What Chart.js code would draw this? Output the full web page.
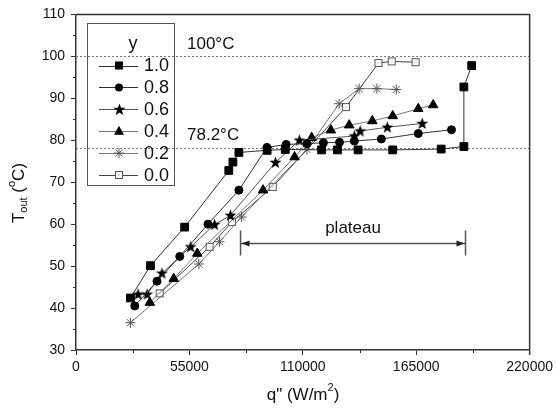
<!DOCTYPE html>
<html>
<head>
<meta charset="utf-8">
<script src="https://cdn.jsdelivr.net/npm/chart.js@4"></script>
<style>
  body { margin: 0; background: #fff; }
  #chart { display: block; }
</style>
</head>
<body>
<canvas id="chart" width="557" height="409"></canvas>
<script>
// series labels (y = composition)
const seriesLabels = ['1.0', '0.8', '0.6', '0.4', '0.2', '0.0'];

// heat flux q'' (W/m2) and outlet temperature (C) for each series
const q10 = [26400, 36100, 52700, 74100, 76100, 79000, 92700, 101500, 119100, 126800, 136800, 153600, 177100, 188100, 188100, 191900];
const t10 = [42.4, 50.1, 59.3, 72.8, 74.8, 77.1, 77.6, 77.8, 77.7, 77.7, 77.7, 77.7, 77.9, 78.5, 92.7, 97.8];
const q08 = [28500, 39300, 50300, 64000, 79000, 92600, 101900, 112000, 120000, 127800, 135000, 148100, 166000, 182100];
const t08 = [40.5, 46.4, 52.3, 60.0, 68.1, 78.3, 79.0, 79.2, 79.4, 79.5, 79.8, 80.3, 81.6, 82.5];
const q06 = [30100, 34500, 41700, 55600, 67200, 74900, 96700, 108300, 135000, 137800, 151000, 167900];
const t06 = [43.3, 43.3, 48.3, 54.6, 59.9, 62.1, 74.7, 80.0, 81.0, 82.2, 83.1, 84.0];
const q04 = [35800, 47400, 58800, 90700, 106000, 114300, 123600, 132500, 143700, 153600, 166000, 173200];
const t04 = [41.3, 47.0, 53.0, 68.1, 76.0, 80.6, 82.4, 83.6, 84.6, 85.8, 87.5, 88.4];
const q02 = [26400, 59600, 69600, 80300, 112000, 127600, 137300, 145900, 155300];
const t02 = [36.5, 50.5, 55.8, 61.7, 77.8, 88.7, 92.3, 92.3, 92.1];
const q00 = [40600, 64800, 75600, 95400, 130900, 146700, 153100, 164700];
const t00 = [43.5, 54.6, 60.5, 68.9, 87.9, 98.4, 98.8, 98.6];

// axis ticks
const xTicks = [0, 55000, 110000, 165000, 220000];
const yTicks = [30, 40, 50, 60, 70, 80, 90, 100, 110];

// reference temperatures and plateau span
const refTemps = [100, 78.2];
const refLabels = ['100°C', '78.2°C'];
const plateauQ = [79800, 188900];
const plateauT = 55.4;

const FONT = '"Liberation Sans", Arial, sans-serif';

function makeStar() {
    const c = document.createElement('canvas');
    c.width = 13; c.height = 13;
    const g = c.getContext('2d');
    g.fillStyle = '#000';
    g.beginPath();
    for (let i = 0; i < 10; i++) {
        const r = i % 2 ? 2.6 : 6.3;
        const a = -Math.PI / 2 + i * Math.PI / 5;
        const px = 6.5 + r * Math.cos(a), py = 6.8 + r * Math.sin(a);
        i ? g.lineTo(px, py) : g.moveTo(px, py);
    }
    g.closePath();
    g.fill();
    return c;
}

function makeOpenSquare() {
    const c = document.createElement('canvas');
    c.width = 10; c.height = 10;
    const g = c.getContext('2d');
    g.fillStyle = '#fff';
    g.fillRect(1, 1, 8, 8);
    g.strokeStyle = '#555';
    g.lineWidth = 1;
    g.strokeRect(1.5, 1.5, 7, 7);
    g.fillStyle = '#888';
    g.fillRect(4.5, 4.5, 1, 1);
    return c;
}

const starImg = makeStar();
const openSqImg = makeOpenSquare();

function pts(qs, ts) {
    return qs.map((q, i) => ({ x: q, y: ts[i] }));
}

const styles = [
    { line: '#333', point: 'rect', radius: 5.5, bg: '#000', border: '#000' },
    { line: '#333', point: 'circle', radius: 4, bg: '#000', border: '#000' },
    { line: '#555', point: starImg, radius: 6, bg: '#000', border: '#000' },
    { line: '#777', point: 'triangle', radius: 5.5, bg: '#000', border: '#000' },
    { line: '#777', point: 'star', radius: 5, bg: '#555', border: '#555' },
    { line: '#444', point: openSqImg, radius: 5, bg: '#fff', border: '#555' }
];

const seriesData = [pts(q10, t10), pts(q08, t08), pts(q06, t06), pts(q04, t04), pts(q02, t02), pts(q00, t00)];

const datasets = seriesData.map((d, i) => ({
    label: seriesLabels[i],
    data: d,
    showLine: true,
    borderColor: styles[i].line,
    borderWidth: 1,
    pointStyle: styles[i].point,
    pointRadius: styles[i].radius,
    pointBackgroundColor: styles[i].bg,
    pointBorderColor: styles[i].border,
    pointBorderWidth: 1
}));

// draws a legend marker
function drawMarker(ctx, i, x, y) {
    const s = styles[i];
    ctx.save();
    ctx.fillStyle = s.bg;
    ctx.strokeStyle = s.border;
    ctx.lineWidth = 1;
    if (s.point === 'rect') {
        ctx.fillRect(x - 4, y - 4, 8, 8);
    } else if (s.point === 'circle') {
        ctx.beginPath(); ctx.arc(x, y, 4, 0, Math.PI * 2); ctx.fill();
    } else if (s.point === 'triangle') {
        ctx.beginPath();
        ctx.moveTo(x, y - 5.5); ctx.lineTo(x + 5, y + 3.5); ctx.lineTo(x - 5, y + 3.5);
        ctx.closePath(); ctx.fill();
    } else if (s.point === 'star') {
        ctx.beginPath();
        for (let k = 0; k < 4; k++) {
            const a = k * Math.PI / 4;
            ctx.moveTo(x - 5 * Math.cos(a), y - 5 * Math.sin(a));
            ctx.lineTo(x + 5 * Math.cos(a), y + 5 * Math.sin(a));
        }
        ctx.stroke();
    } else {
        const img = s.point;
        ctx.drawImage(img, Math.round(x - img.width / 2), Math.round(y - img.height / 2));
    }
    ctx.restore();
}

const extras = {
    id: 'extras',
    beforeDatasetsDraw(chart) {
        const { ctx, chartArea: a, scales: { y } } = chart;
        ctx.save();
        ctx.strokeStyle = '#777';
        ctx.lineWidth = 1;
        ctx.setLineDash([2, 2]);
        refTemps.forEach(t => {
            const py = Math.round(y.getPixelForValue(t)) + 0.5;
            ctx.beginPath(); ctx.moveTo(a.left, py); ctx.lineTo(a.right, py); ctx.stroke();
        });
        ctx.restore();
    },
    afterDraw(chart) {
        const { ctx, chartArea: a, scales: { x, y } } = chart;
        ctx.save();

        // frame top + right
        ctx.strokeStyle = '#333';
        ctx.lineWidth = 1.5;
        ctx.beginPath();
        ctx.moveTo(a.left, a.top); ctx.lineTo(a.right, a.top); ctx.lineTo(a.right, a.bottom + 5);
        ctx.stroke();

        // minor ticks
        ctx.lineWidth = 1;
        for (let v = 27500; v < 220000; v += 55000) {
            const px = Math.round(x.getPixelForValue(v)) + 0.5;
            ctx.beginPath(); ctx.moveTo(px, a.bottom); ctx.lineTo(px, a.bottom + 3); ctx.stroke();
        }
        for (let v = 35; v < 110; v += 10) {
            const py = Math.round(y.getPixelForValue(v)) + 0.5;
            ctx.beginPath(); ctx.moveTo(a.left, py); ctx.lineTo(a.left - 3, py); ctx.stroke();
        }

        // reference labels
        ctx.fillStyle = '#111';
        ctx.font = '17px ' + FONT;
        ctx.textBaseline = 'middle';
        ctx.textAlign = 'left';
        refTemps.forEach((t, i) => {
            ctx.fillText(refLabels[i], a.left + 111, y.getPixelForValue(t) - 12);
        });

        // plateau arrow
        const x1 = x.getPixelForValue(plateauQ[0]);
        const x2 = x.getPixelForValue(plateauQ[1]);
        const py = Math.round(y.getPixelForValue(plateauT)) + 0.5;
        ctx.strokeStyle = '#555';
        ctx.fillStyle = '#222';
        ctx.lineWidth = 1.5;
        ctx.beginPath();
        ctx.moveTo(x1, py - 13); ctx.lineTo(x1, py + 12);
        ctx.moveTo(x2, py - 13); ctx.lineTo(x2, py + 12);
        ctx.moveTo(x1, py); ctx.lineTo(x2, py);
        ctx.stroke();
        ctx.beginPath();
        ctx.moveTo(x1 + 1, py); ctx.lineTo(x1 + 9, py - 3); ctx.lineTo(x1 + 9, py + 3); ctx.closePath();
        ctx.moveTo(x2 - 1, py); ctx.lineTo(x2 - 9, py - 3); ctx.lineTo(x2 - 9, py + 3); ctx.closePath();
        ctx.fill();
        ctx.fillStyle = '#111';
        ctx.textAlign = 'center';
        ctx.fillText('plateau', (x1 + x2) / 2, py - 15);

        // legend
        const lx = 87.5, ly = 23.5, lw = 87, lh = 162;
        ctx.strokeStyle = '#555';
        ctx.lineWidth = 1;
        ctx.strokeRect(lx, ly, lw, lh);
        ctx.fillStyle = '#111';
        ctx.font = '18px ' + FONT;
        ctx.textAlign = 'center';
        ctx.fillText('y', 133, 44);
        chart.data.datasets.forEach((ds, i) => {
            const ry = 65.5 + i * 21.9;
            ctx.strokeStyle = styles[i].line;
            ctx.beginPath(); ctx.moveTo(99, Math.round(ry) + 0.5); ctx.lineTo(138, Math.round(ry) + 0.5); ctx.stroke();
            drawMarker(ctx, i, 119, ry);
            ctx.fillStyle = '#111';
            ctx.textAlign = 'left';
            ctx.fillText(ds.label, 144, ry + 1);
        });

        // x title
        ctx.font = '17px ' + FONT;
        ctx.textAlign = 'left';
        const xt1 = 'q" (W/m', xt2 = ')';
        const w1 = ctx.measureText(xt1).width;
        ctx.font = '11px ' + FONT;
        const ws = ctx.measureText('2').width;
        ctx.font = '17px ' + FONT;
        const w2 = ctx.measureText(xt2).width;
        let tx = 303 - (w1 + ws + w2) / 2;
        const tyy = 395;
        ctx.fillText(xt1, tx, tyy);
        ctx.font = '11px ' + FONT;
        ctx.fillText('2', tx + w1, tyy - 7);
        ctx.font = '17px ' + FONT;
        ctx.fillText(xt2, tx + w1 + ws, tyy);

        // y title (rotated)
        ctx.translate(19, 193);
        ctx.rotate(-Math.PI / 2);
        const parts = [
            { t: 'T', f: 17, dy: 0 },
            { t: 'out', f: 11, dy: 5 },
            { t: ' (', f: 17, dy: 0 },
            { t: 'o', f: 11, dy: -7 },
            { t: 'C)', f: 17, dy: 0 }
        ];
        let total = 0;
        parts.forEach(p => { ctx.font = p.f + 'px ' + FONT; p.w = ctx.measureText(p.t).width; total += p.w; });
        let cx = -total / 2;
        parts.forEach(p => {
            ctx.font = p.f + 'px ' + FONT;
            ctx.fillText(p.t, cx, p.dy);
            cx += p.w;
        });
        ctx.restore();
    }
};

new Chart(document.getElementById('chart'), {
    type: 'scatter',
    data: { datasets },
    options: {
        responsive: false,
        animation: false,
        layout: { padding: { top: 14, right: 26, left: 0, bottom: 0 } },
        plugins: { legend: { display: false }, tooltip: { enabled: false } },
        scales: {
            x: {
                type: 'linear',
                min: 0, max: 220000,
                afterFit: s => { s.height = 59; },
                afterBuildTicks: s => { s.ticks = xTicks.map(v => ({ value: v })); },
                border: { color: '#333', width: 1.5 },
                grid: { drawOnChartArea: false, drawTicks: true, tickLength: 5, tickColor: '#333' },
                ticks: { color: '#111', font: { size: 14, family: FONT }, padding: 4, maxRotation: 0, callback: v => String(v) }
            },
            y: {
                type: 'linear',
                min: 30, max: 110,
                afterFit: s => { s.width = 76; },
                afterBuildTicks: s => { s.ticks = yTicks.map(v => ({ value: v })); },
                border: { color: '#333', width: 1.5 },
                grid: { drawOnChartArea: false, drawTicks: true, tickLength: 5, tickColor: '#333' },
                ticks: { color: '#111', font: { size: 14, family: FONT }, padding: 6, callback: v => String(v) }
            }
        }
    },
    plugins: [extras]
});
</script>
</body>
</html>
